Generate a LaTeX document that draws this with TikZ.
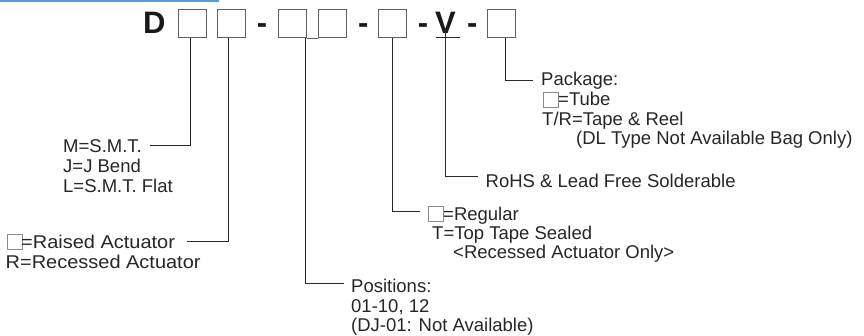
\documentclass[tikz,border=0pt]{standalone}
\usepackage{fontspec}
\setmainfont{Liberation Sans}
\newfontfamily\widefont[FakeStretch=1.08]{Liberation Sans}
\definecolor{barblue}{RGB}{91,155,213}
\definecolor{leadgray}{RGB}{40,40,40}
\definecolor{boxgray}{RGB}{95,95,95}
\definecolor{smallgray}{RGB}{140,140,140}
\begin{document}
\begin{tikzpicture}[x=1pt,y=-1pt,
  bigbox/.style={draw=boxgray,line width=1pt,minimum width=28pt,minimum height=28pt,inner sep=0pt,anchor=north west},
  smallbox/.style={draw=smallgray,line width=0.8pt,minimum width=15pt,minimum height=15pt,inner sep=0pt,anchor=north west},
  bigtxt/.style={font=\fontsize{31}{31}\selectfont\bfseries,inner sep=0pt,anchor=base west,text=black!90},
  lbl/.style={font=\fontsize{18.5}{20}\selectfont,inner sep=0pt,anchor=base west,text=black!85},
  widelbl/.style={lbl,font=\widefont\fontsize{18.5}{20}\selectfont},
  lead/.style={draw=leadgray,line width=0.9pt}]
\useasboundingbox (0,0) rectangle (864,335);
\fill[barblue] (0,0) rectangle (219,2.3);
% code line
\node[bigtxt] (D) at (142.8,33) {D};
\node[bigbox] (b1) at (177.7,9.3) {};
\node[bigbox] (b2) at (217,9.3) {};
\node[bigtxt] (d1) at (256.6,33) {-};
\node[bigbox] (b3) at (277.7,9.3) {};
\node[bigbox] (b4) at (318,9.3) {};
\draw[draw=boxgray,line width=1pt] (b3.south east) -- (b4.south west);
\node[bigtxt] (d2) at (357.8,33) {-};
\node[bigbox] (b5) at (378,9.3) {};
\node[bigtxt] (d3) at (417.6,33) {-};
\node[bigtxt] (V) at (435,33) {V};
\draw[draw=leadgray,line width=1pt] (436,37.6) -- (460,37.6);
\node[bigtxt] (d4) at (466.8,33) {-};
\node[bigbox] (b6) at (486.7,9.3) {};
% mounting
\node[lbl] (m1) at (63,152) {M=S.M.T.};
\node[lbl] (m2) at (63,172) {J=J Bend};
\node[lbl] (m3) at (63,192) {L=S.M.T. Flat};
\coordinate (m1end) at (150,145);
% actuator
\node[smallbox] (sb1) at (6.7,234) {};
\node[widelbl] (r1) at (21,248) {=Raised Actuator};
\node[widelbl] (r2) at (5.5,268) {R=Recessed Actuator};
\coordinate (r1end) at (186.7,241.7);
% positions
\node[lbl] (p1) at (351,292.5) {Positions:};
\node[lbl] (p2) at (351,312) {01-10, 12};
\node[lbl] (p3) at (351,331) {(DJ-01: Not Available)};
\coordinate (p1end) at (344,283.5);
% regular
\node[smallbox] (sb2) at (428,206) {};
\node[lbl] (g1) at (443,220) {=Regular};
\node[lbl] (g2) at (432,239) {T=Top Tape Sealed};
\node[lbl] (g3) at (453,258) {<Recessed Actuator Only>};
\coordinate (g1end) at (420,211.7);
% rohs
\node[lbl] (h1) at (485.5,187) {RoHS \& Lead Free Solderable};
\coordinate (h1end) at (477.7,176.5);
% package
\node[lbl] (k1) at (541,85.5) {Package:};
\node[smallbox] (sb3) at (543,92) {};
\node[lbl] (k2) at (558,105.5) {=Tube};
\node[lbl] (k3) at (542,125) {T/R=Tape \& Reel};
\node[lbl] (k4) at (576,144.5) {(DL Type Not Available Bag Only)};
\coordinate (k1end) at (533,80.7);
% leads
\draw[lead] ([xshift=-1.5pt]b1.south) |- (m1end);
\draw[lead] ([xshift=-3.3pt]b2.south) |- (r1end);
\draw[lead] ([xshift=-1.2pt]b3.south east) |- (p1end);
\draw[lead] (b5.south) |- (g1end);
\draw[lead] ([xshift=0.2pt,yshift=4.6pt]V.base) |- (h1end);
\draw[lead] ([xshift=4.2pt]b6.south) |- (k1end);
\end{tikzpicture}
\end{document}
